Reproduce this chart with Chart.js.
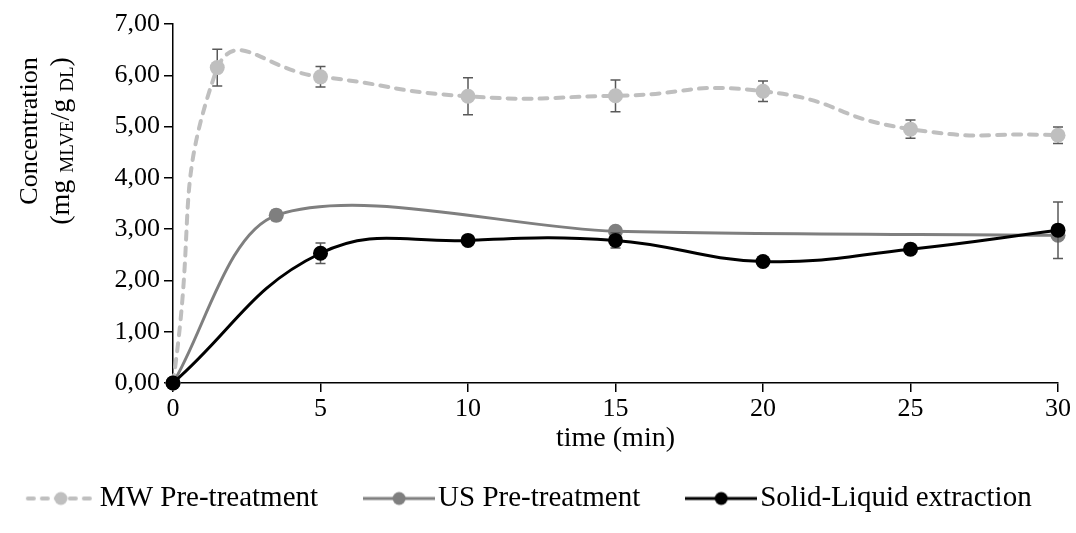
<!DOCTYPE html>
<html>
<head>
<meta charset="utf-8">
<script src="https://cdn.jsdelivr.net/npm/chart.js@4.4.1/dist/chart.umd.min.js"></script>
<style>
  html, body { margin: 0; padding: 0; background: #fff; }
</style>
</head>
<body>
<canvas id="chart" width="1076" height="533"></canvas>
<script>
// values
const seriesNames = ["MW Pre-treatment", "US Pre-treatment", "Solid-Liquid extraction"];

const timeMW = [0, 1.5, 5, 10, 15, 20, 25, 30];
const concMW = [0, 6.15, 5.97, 5.59, 5.60, 5.69, 4.95, 4.83];
const errMW = [0, 0.36, 0.20, 0.36, 0.31, 0.20, 0.18, 0.16];

const timeUS = [0, 3.5, 15, 30];
const concUS = [0, 3.27, 2.96, 2.88];
const errUS = [0, 0.10, 0.05, 0.05];

const timeSL = [0, 5, 10, 15, 20, 25, 30];
const concSL = [0, 2.53, 2.78, 2.78, 2.37, 2.61, 2.98];
const errSL = [0, 0.20, 0.05, 0.15, 0.09, 0.07, 0.55];

const FONT = '"Liberation Serif", "Times New Roman", serif';
const TICK_FS = 26;
const FS = 29;

function toPoints(xs, ys) {
  return xs.map((x, i) => ({ x: x, y: ys[i] }));
}

// legend icon: a line with a marker in the middle
function legendIcon(color, dashed, lw) {
  const c = document.createElement('canvas');
  c.width = 72;
  c.height = 20;
  const g = c.getContext('2d');
  g.strokeStyle = color;
  g.lineWidth = lw;
  g.lineCap = dashed ? 'round' : 'butt';
  if (dashed) g.setLineDash([6, 8]);
  g.beginPath();
  g.moveTo(dashed ? 3 : 0, 10);
  g.lineTo(72, 10);
  g.stroke();
  g.setLineDash([]);
  g.fillStyle = color;
  g.beginPath();
  g.arc(36, 10, 6.5, 0, Math.PI * 2);
  g.fill();
  return c;
}

const errors = [errMW, errUS, errSL];

// error bars, drawn just below each line
const errorBars = {
  id: 'errorBars',
  beforeDatasetDraw(chart, args) {
    const errs = errors[args.index];
    const ys = chart.scales.y;
    const ctx = chart.ctx;
    ctx.save();
    ctx.strokeStyle = '#595959';
    ctx.lineWidth = 1.5;
    args.meta.data.forEach((pt, i) => {
      const e = errs[i];
      if (!e) return;
      const v = chart.data.datasets[args.index].data[i].y;
      const top = ys.getPixelForValue(v + e);
      const bot = ys.getPixelForValue(v - e);
      ctx.beginPath();
      ctx.moveTo(pt.x, top); ctx.lineTo(pt.x, bot);
      ctx.moveTo(pt.x - 5, top); ctx.lineTo(pt.x + 5, top);
      ctx.moveTo(pt.x - 5, bot); ctx.lineTo(pt.x + 5, bot);
      ctx.stroke();
    });
    ctx.restore();
  }
};

// two-line y axis title with subscripts
const yTitle = {
  id: 'yTitle',
  afterDraw(chart) {
    const ctx = chart.ctx;
    ctx.save();
    ctx.fillStyle = '#000';
    ctx.textBaseline = 'alphabetic';
    ctx.translate(37, 131);
    ctx.rotate(-Math.PI / 2);
    ctx.font = '26px ' + FONT;
    ctx.textAlign = 'center';
    ctx.fillText('Concentration', 0, 0);
    ctx.restore();

    const parts = [['(mg ', 28, 0], ['MLVE', 19, 4], ['/g ', 28, 0], ['DL', 19, 4], [')', 28, 0]];
    ctx.save();
    ctx.fillStyle = '#000';
    ctx.textBaseline = 'alphabetic';
    ctx.textAlign = 'left';
    let total = 0;
    parts.forEach(p => { ctx.font = p[1] + 'px ' + FONT; total += ctx.measureText(p[0]).width; });
    ctx.translate(69, 141);
    ctx.rotate(-Math.PI / 2);
    let x = -total / 2;
    parts.forEach(p => {
      ctx.font = p[1] + 'px ' + FONT;
      ctx.fillText(p[0], x, p[2]);
      x += ctx.measureText(p[0]).width;
    });
    ctx.restore();
  }
};

const colors = ['#bfbfbf', '#7f7f7f', '#000000'];

new Chart(document.getElementById('chart'), {
  type: 'line',
  data: {
    datasets: [
      {
        label: seriesNames[0],
        data: toPoints(timeMW, concMW),
        borderColor: colors[0],
        backgroundColor: colors[0],
        borderWidth: 4,
        borderDash: [8, 8],
        borderCapStyle: 'round',
        tension: 0.55,
        pointRadius: 7.5,
        pointBorderWidth: 0,
        order: 2,
        clip: false
      },
      {
        label: seriesNames[1],
        data: toPoints(timeUS, concUS),
        borderColor: colors[1],
        backgroundColor: colors[1],
        borderWidth: 3,
        tension: 0.3,
        pointRadius: 7.5,
        pointBorderWidth: 0,
        order: 1,
        clip: false
      },
      {
        label: seriesNames[2],
        data: toPoints(timeSL, concSL),
        borderColor: colors[2],
        backgroundColor: colors[2],
        borderWidth: 3,
        tension: 0.42,
        pointRadius: 7.5,
        pointBorderWidth: 0,
        order: 0,
        clip: false
      }
    ]
  },
  options: {
    responsive: false,
    animation: false,
    layout: { padding: { left: 10, right: 18, top: 24, bottom: 10 } },
    plugins: {
      tooltip: { enabled: false },
      legend: {
        position: 'bottom',
        labels: {
          usePointStyle: true,
          pointStyleWidth: 49,
          padding: 13,
          color: '#000',
          font: { family: FONT, size: FS },
          sort: (a, b) => a.datasetIndex - b.datasetIndex,
          generateLabels(chart) {
            return chart.data.datasets.map((ds, i) => ({
              text: ds.label + (i < 2 ? '      ' : ''),
              fillStyle: colors[i],
              strokeStyle: colors[i],
              lineWidth: 0,
              pointStyle: legendIcon(colors[i], i === 0, i === 0 ? 4 : 3),
              datasetIndex: i,
              hidden: false,
              fontColor: '#000'
            }));
          }
        }
      }
    },
    scales: {
      x: {
        type: 'linear',
        min: 0,
        max: 30,
        border: { color: '#000', width: 1.5 },
        grid: { display: true, drawOnChartArea: false, drawTicks: true, tickLength: 9, color: '#000', lineWidth: 1.5 },
        ticks: { stepSize: 5, color: '#000', padding: 2, font: { family: FONT, size: TICK_FS }, maxRotation: 0 },
        title: { display: true, text: 'time (min)', color: '#000', font: { family: FONT, size: 28 }, padding: { top: 4, bottom: 16 } },
        afterFit(scale) { scale.height = 88; }
      },
      y: {
        min: 0,
        max: 7,
        border: { color: '#000', width: 1.5 },
        grid: { display: true, drawOnChartArea: false, drawTicks: true, tickLength: 9, color: '#000', lineWidth: 1.5 },
        ticks: {
          stepSize: 1,
          color: '#000',
          padding: 4,
          font: { family: FONT, size: TICK_FS },
          callback: v => v.toFixed(2).replace('.', ',')
        },
        afterFit(scale) { scale.width = 163; }
      }
    }
  },
  plugins: [errorBars, yTitle]
});
</script>
</body>
</html>
